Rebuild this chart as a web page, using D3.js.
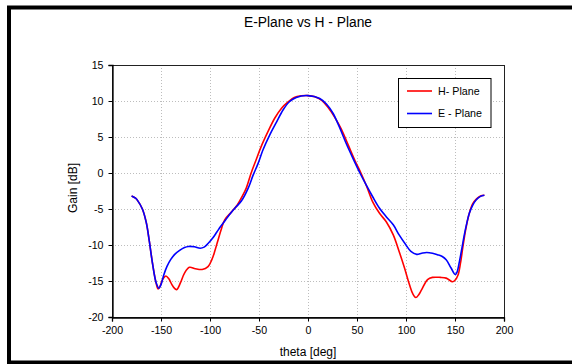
<!DOCTYPE html>
<html>
<head>
<meta charset="utf-8">
<script src="https://cdn.jsdelivr.net/npm/d3@7"></script>
<style>
  body { margin: 0; background: #fff; }
  text { font-family: "Liberation Sans", Arial, sans-serif; fill: #000; }
</style>
</head>
<body>
<div id="graph"></div>
<script>
// data
var hTheta = [-180, -176, -174, -169, -165, -162, -158.5, -155, -153, -151, -148, -145, -142, -138, -134, -130, -126, -121, -115, -108, -102, -98, -95, -92, -88, -85, -78, -72, -67, -63, -58, -53, -48, -41, -34, -27, -20, -14, -7, 0, 7, 14, 20, 27, 34, 41, 48, 54, 60, 66, 73, 80, 87, 93, 98.5, 103.5, 107, 110, 113, 116, 122, 127, 135, 141, 147.5, 150, 153, 155.5, 158, 161, 164, 168, 172, 176, 180];
var hGain = [-3.2, -3.5, -3.8, -5.0, -6.9, -9.4, -12.7, -15.3, -16.1, -15.7, -14.7, -14.3, -14.7, -15.7, -16.2, -15.2, -13.9, -13.1, -13.3, -13.4, -13.0, -12.0, -10.8, -9.4, -7.6, -6.5, -5.4, -4.4, -3.2, -2.1, 0.0, 1.8, 3.6, 5.7, 7.6, 9.0, 9.9, 10.5, 10.72, 10.75, 10.6, 10.1, 9.2, 7.8, 6.1, 3.9, 1.7, 0.0, -1.9, -4.0, -5.6, -6.8, -8.6, -10.9, -13.2, -15.5, -16.8, -17.3, -16.9, -16.2, -14.8, -14.5, -14.5, -14.6, -15.1, -14.9, -14.2, -12.6, -10.3, -7.8, -5.9, -4.3, -3.6, -3.2, -3.1];

var eTheta = [-180, -176, -174, -169, -165, -162, -158.5, -155, -152, -150, -147, -144, -140, -136, -131, -126, -122, -116, -110, -106, -102, -97, -93, -89, -84, -79, -74, -68, -61, -56, -51, -46, -39, -32, -25.5, -19, -12, 0, 12, 19, 25.5, 32, 39, 46, 53, 59.5, 66, 73, 80, 87, 93, 100, 105, 111, 116, 121, 127, 132, 137, 141, 146, 150.3, 152, 154.5, 157, 159.5, 162, 164.6, 168, 171.5, 176, 180];
var eGain = [-3.2, -3.5, -3.8, -5.0, -6.9, -9.4, -12.7, -15.2, -16.0, -15.5, -14.1, -13.0, -12.0, -11.3, -10.75, -10.35, -10.2, -10.25, -10.45, -10.3, -9.8, -9.0, -8.2, -7.4, -6.5, -5.6, -4.8, -3.9, -2.1, -0.3, 1.3, 3.2, 5.3, 7.1, 8.75, 9.9, 10.5, 10.75, 10.35, 9.55, 8.3, 6.4, 4.1, 2.0, 0.0, -1.7, -3.3, -4.9, -6.1, -7.2, -8.6, -10.0, -10.9, -11.3, -11.15, -11.05, -11.15, -11.35, -11.6, -12.05, -13.2, -14.1, -13.8, -12.3, -10.5, -8.6, -7.0, -5.6, -4.5, -3.75, -3.25, -3.1];

var xTicks = [-200, -150, -100, -50, 0, 50, 100, 150, 200];
var yTicks = [-20, -15, -10, -5, 0, 5, 10, 15];
var seriesNames = ["H- Plane", "E - Plane"];
var seriesColors = ["#ff0000", "#0000ff"];

var svg = d3.select("#graph").append("svg")
    .attr("width", 572)
    .attr("height", 364);

// outer frame
svg.append("rect")
    .attr("x", 9).attr("y", 7.5)
    .attr("width", 600).attr("height", 355)
    .style("fill", "none")
    .style("stroke", "#000")
    .style("stroke-width", 4);

var x = d3.scaleLinear().domain([-200, 200]).range([112, 504]);
var y = d3.scaleLinear().domain([-20, 15]).range([317, 65]);

// grid
var grid = svg.append("g").style("stroke", "#bdbdbd").style("stroke-dasharray", "1,2");
grid.selectAll(".gx").data(xTicks.slice(1, -1)).enter().append("line")
    .attr("x1", d => x(d) + 0.5).attr("x2", d => x(d) + 0.5)
    .attr("y1", y(15)).attr("y2", y(-20));
grid.selectAll(".gy").data(yTicks.slice(1, -1)).enter().append("line")
    .attr("x1", x(-200)).attr("x2", x(200))
    .attr("y1", d => y(d) + 0.5).attr("y2", d => y(d) + 0.5);

// plot frame
svg.append("rect")
    .attr("x", x(-200) + 0.5).attr("y", y(15) + 0.5)
    .attr("width", x(200) - x(-200)).attr("height", y(-20) - y(15))
    .style("fill", "none")
    .style("stroke", "#222");

// axes
var xAxis = svg.append("g")
    .attr("transform", "translate(0," + (y(-20) + 0.5) + ")")
    .call(d3.axisBottom(x).tickValues(xTicks).tickSize(4).tickPadding(5).tickFormat(d => String(d)));
var yAxis = svg.append("g")
    .attr("transform", "translate(" + (x(-200) + 0.5) + ",0)")
    .call(d3.axisLeft(y).tickValues(yTicks).tickSize(4).tickPadding(5).tickFormat(d => String(d)));
[xAxis, yAxis].forEach(function(a) {
    a.selectAll("text").style("font-size", "10.6px").style("font-family", '"Liberation Sans", Arial, sans-serif');
    a.select(".domain").style("stroke", "#000").style("stroke-width", 1.3);
});

// curves
var line = d3.line()
    .x(d => x(d[0]))
    .y(d => y(d[1]))
    .curve(d3.curveCatmullRom.alpha(0.5));

var hData = hTheta.map((t, i) => [t, hGain[i]]);
var eData = eTheta.map((t, i) => [t, eGain[i]]);

svg.append("path").datum(hData)
    .attr("d", line)
    .style("fill", "none").style("stroke", seriesColors[0]).style("stroke-width", 1.6);
svg.append("path").datum(eData)
    .attr("d", line)
    .style("fill", "none").style("stroke", seriesColors[1]).style("stroke-width", 1.6);

// titles
svg.append("text")
    .attr("x", 308).attr("y", 26.5)
    .attr("text-anchor", "middle")
    .style("font-size", "13.8px")
    .text("E-Plane vs H - Plane");
svg.append("text")
    .attr("x", 308).attr("y", 356)
    .attr("text-anchor", "middle")
    .style("font-size", "12px")
    .text("theta [deg]");
svg.append("text")
    .attr("transform", "translate(76.5,188) rotate(-90)")
    .attr("text-anchor", "middle")
    .style("font-size", "12px")
    .text("Gain [dB]");

// legend
var legend = svg.append("g");
legend.append("rect")
    .attr("x", 398.5).attr("y", 78.5)
    .attr("width", 92.5).attr("height", 49)
    .style("fill", "#fff").style("stroke", "#000");
seriesNames.forEach(function(name, i) {
    var ly = 91 + i * 22.5;
    legend.append("line")
        .attr("x1", 407).attr("x2", 432)
        .attr("y1", ly).attr("y2", ly)
        .style("stroke", seriesColors[i]).style("stroke-width", 1.6);
    legend.append("text")
        .attr("x", 438).attr("y", ly + 3.8)
        .style("font-size", "10.7px")
        .text(name);
});
</script>
</body>
</html>
